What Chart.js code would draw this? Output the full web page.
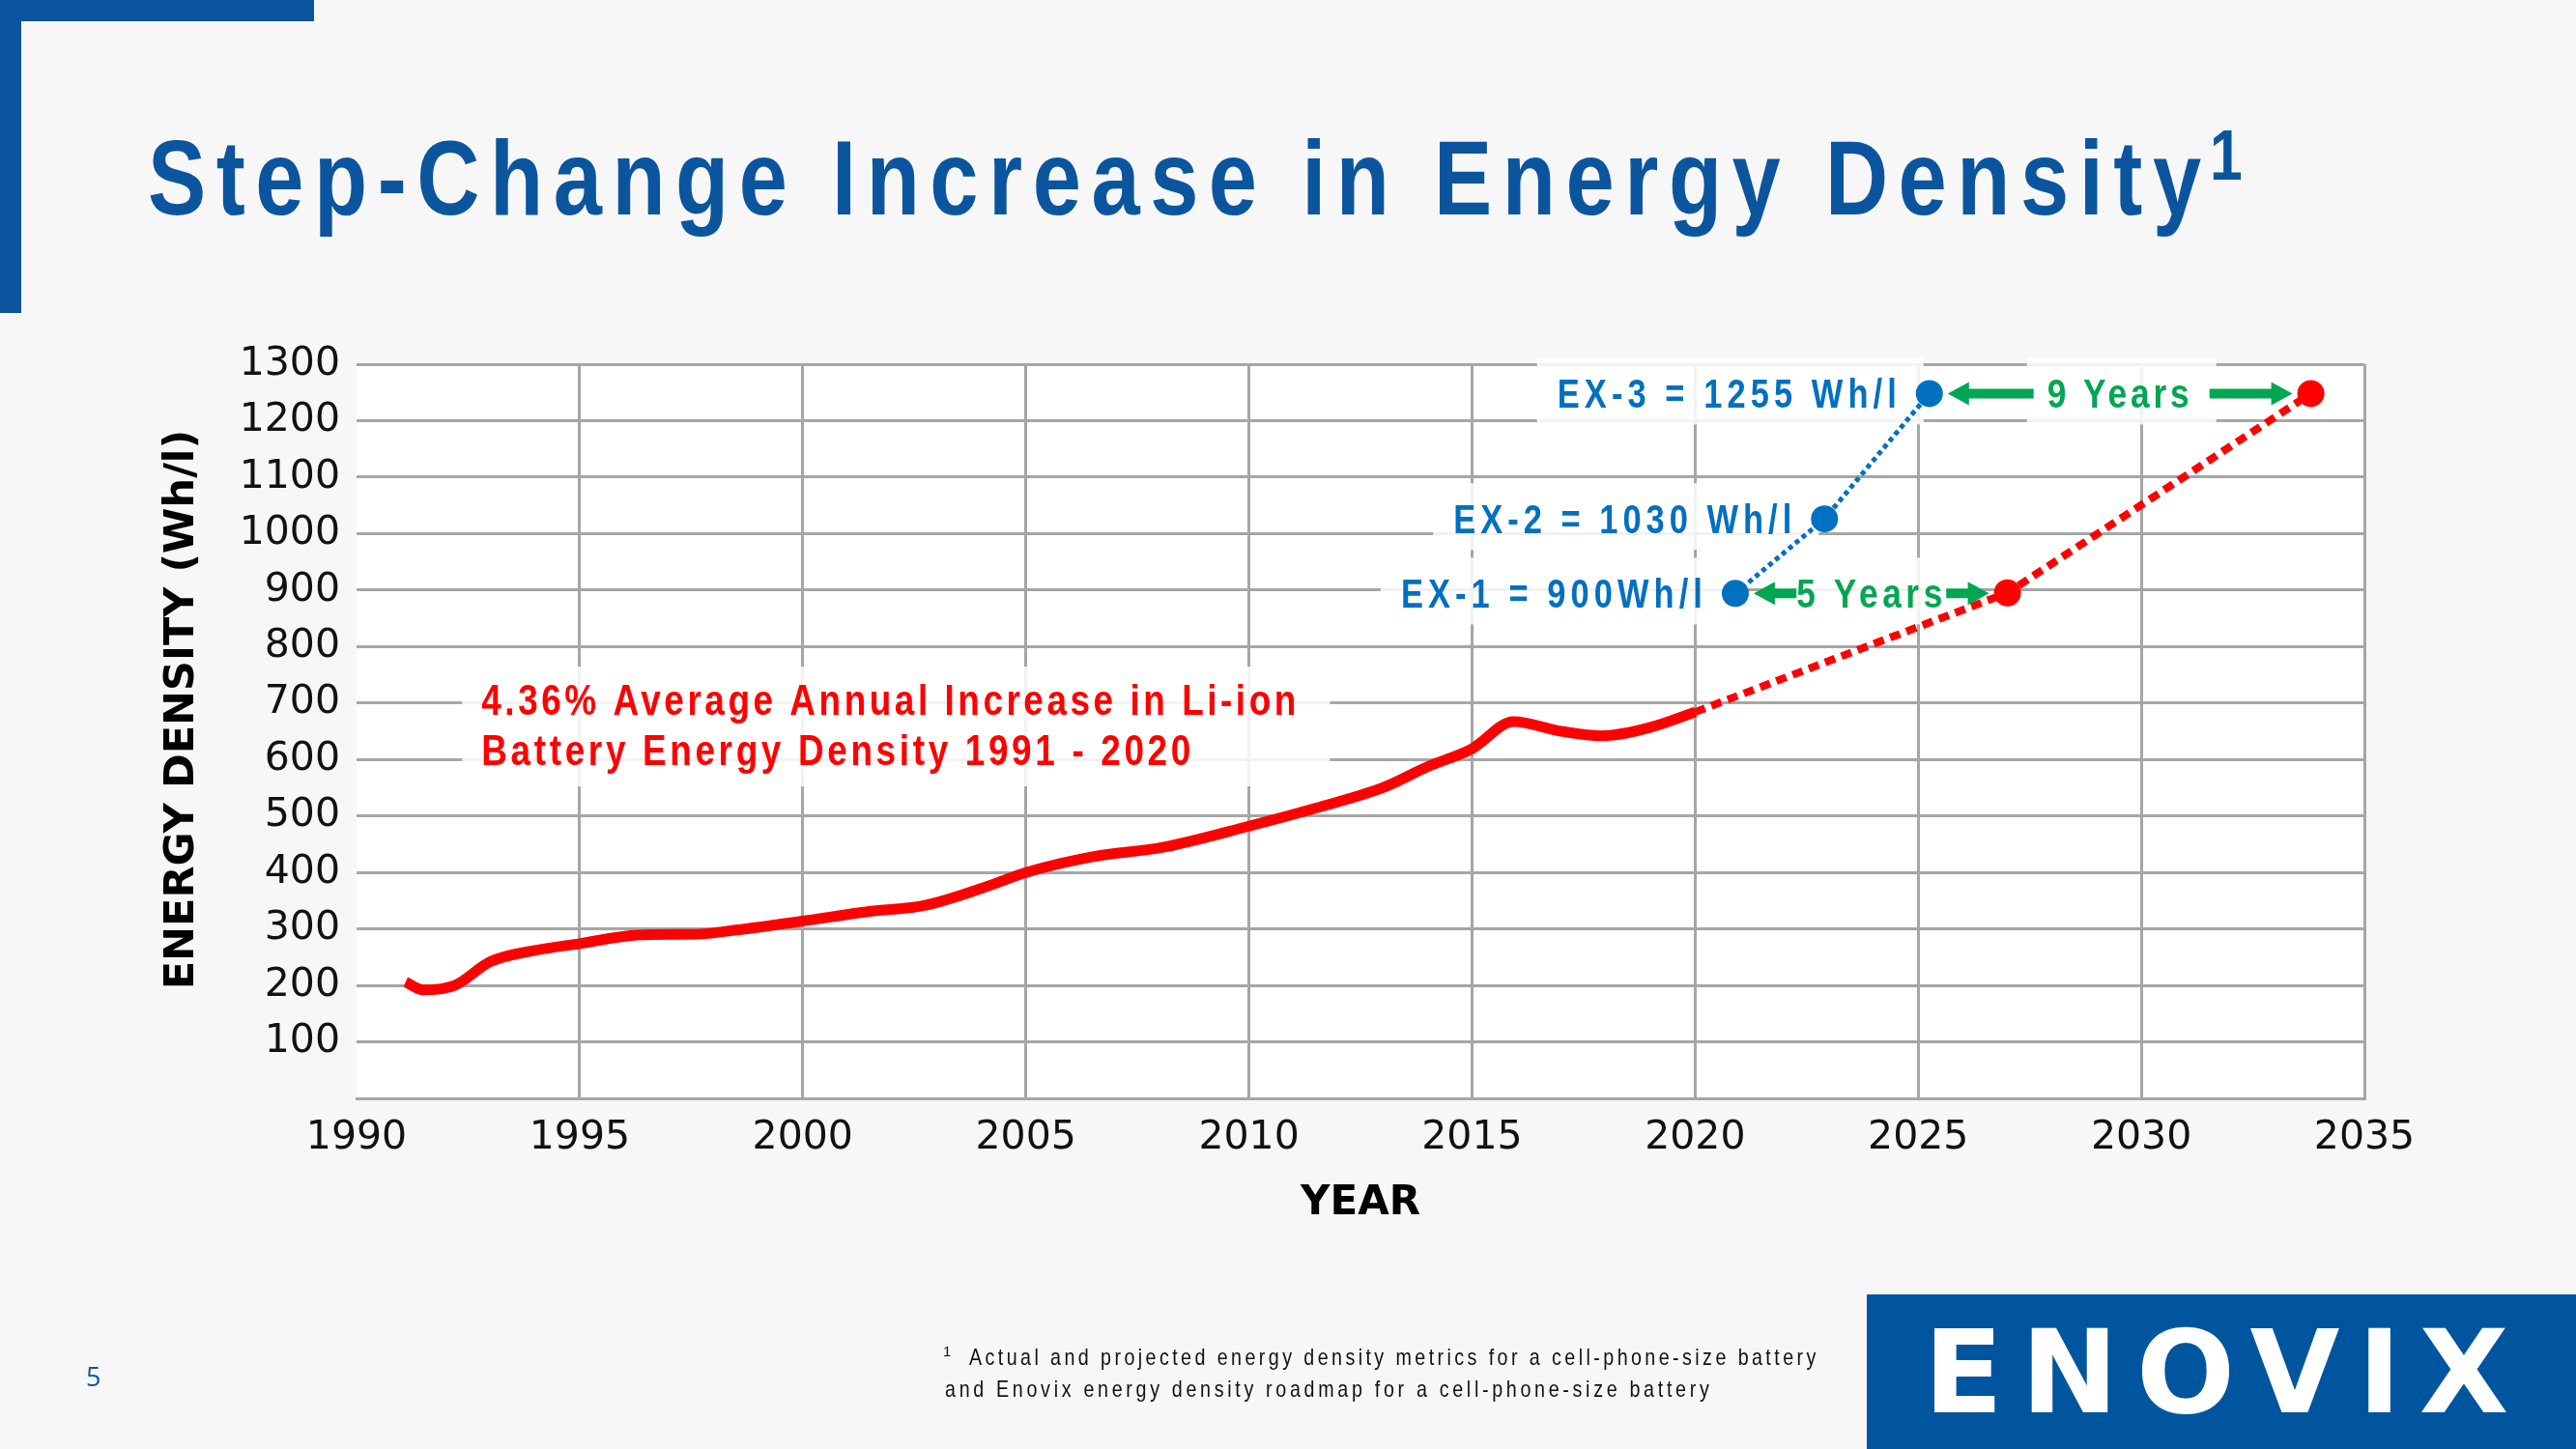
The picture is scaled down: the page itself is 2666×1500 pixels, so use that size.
<!DOCTYPE html>
<html>
<head>
<meta charset="utf-8">
<script src="https://cdn.jsdelivr.net/npm/chart.js@4.4.1/dist/chart.umd.min.js"></script>
<style>
  html, body { margin: 0; padding: 0; background: #f7f7f7; }
  #page { position: relative; width: 2666px; height: 1500px; overflow: hidden; background: #f7f7f7; }
  #chart { position: absolute; left: 0; top: 0; }
  .bar { position: absolute; background: #0b559f; }
  .narrow { display: inline-block; transform: scaleX(0.82); transform-origin: 0 50%; }
  #title { position: absolute; left: 153px; top: 129px; white-space: nowrap;
    font-family: "Liberation Sans", Arial, sans-serif;
    font-weight: bold; font-size: 110px; line-height: 110px; color: #0b559f; }
  #tsup { position: absolute; left: 2287px; top: 124px; white-space: nowrap;
    font-family: "Liberation Sans", Arial, sans-serif;
    font-weight: bold; font-size: 74px; line-height: 74px; color: #0b559f; }
  .foot { position: absolute; white-space: nowrap; color: #111;
    font-family: "Liberation Sans", Arial, sans-serif;
    font-size: 24px; line-height: 33px; }
  #fsup { position: absolute; left: 976px; top: 1391px; font-size: 15px; line-height: 15px; color: #111;
    font-family: "Liberation Sans", Arial, sans-serif; }
  #pnum { position: absolute; left: 89px; top: 1411px; font-family: "Open Sans", sans-serif;
    font-size: 27px; line-height: 27px; color: #0b559f; }
  #logo { position: absolute; left: 1932px; top: 1340px; width: 734px; height: 160px; background: #00559f; }
  #logotext { position: absolute; left: 1991px; top: 1361px; white-space: nowrap; color: #fff;
    font-family: "DejaVu Sans", sans-serif; font-weight: bold; font-size: 120px; line-height: 120px; }
</style>
</head>
<body>
<div id="page">
  <canvas id="chart" width="2666" height="1500"></canvas>
  <div class="bar" style="left:0;top:0;width:325px;height:22px;"></div>
  <div class="bar" style="left:0;top:0;width:22px;height:324px;"></div>
  <div id="title"><span id="tmain" class="narrow">Step-Change Increase in Energy Density</span></div>
  <div id="tsup"><span class="narrow">1</span></div>
  <div id="pnum">5</div>
  <div id="fsup">1</div>
  <div class="foot" style="left:1003px;top:1388px;"><span id="f1" class="narrow">Actual and projected energy density metrics for a cell-phone-size battery</span></div>
  <div class="foot" style="left:978px;top:1421px;"><span id="f2" class="narrow">and Enovix energy density roadmap for a cell-phone-size battery</span></div>
  <div id="logo"></div>
  <div id="logotext">ENOVIX</div>
</div>
<script>
// ---------------- DATA ----------------
const actualYears   = [1991.1, 1991.5, 1992.2, 1993, 1994, 1995, 1996.3, 1997.7, 1998.5, 2000, 2001.5, 2002.75, 2004.3, 2005, 2006.5, 2008.1, 2010, 2011.5, 2013, 2014, 2015, 2015.93, 2017, 2017.9, 2019, 2020];
const actualDensity = [206, 192, 200, 242, 262, 274, 289, 291, 298, 314, 331, 342, 380, 400, 428, 445, 482, 514, 550, 587, 619, 667, 650, 642, 657, 684];
const projYears     = [2020, 2027, 2033.8];
const projDensity   = [684, 895, 1248];
const enovixYears   = [2020.9, 2022.9, 2025.25];
const enovixDensity = [894, 1026, 1248];
const enovixLabels  = ['EX-1 = 900Wh/l', 'EX-2 = 1030 Wh/l', 'EX-3 = 1255 Wh/l'];
const gapLabels     = ['5 Years', '9 Years'];
const noteLines     = ['4.36% Average Annual Increase in Li-ion', 'Battery Energy Density 1991 - 2020'];
const xTickValues   = [1990, 1995, 2000, 2005, 2010, 2015, 2020, 2025, 2030, 2035];
const yTickValues   = [100, 200, 300, 400, 500, 600, 700, 800, 900, 1000, 1100, 1200, 1300];

// ---------------- STYLE ----------------
const RED = '#ff0000', BLUE = '#0070c0', GREEN = '#00a651', GRID = '#a6a6a6';
const SANS = '"Liberation Sans", Arial, sans-serif';
const SQUEEZE = 0.82;               // Arial -> Arial Narrow look
const TICKFONT = 'DejaVu Sans';
const EX_W = [312, 350, 351];      // target text widths of EX labels
const GAP_W = [151, 147];          // target widths of year labels
const NOTE_W = [843, 734];
const NOTE_ANCHOR = {x: 1992.8, y: 679};

const pts = (xs, ys) => xs.map((x, i) => ({x, y: ys[i]}));
const peak = actualDensity.indexOf(Math.max(...actualDensity));
const hasLS = 'letterSpacing' in CanvasRenderingContext2D.prototype;

function spacedText(ctx, text, left, baseline, width) {
  ctx.save();
  ctx.translate(left, baseline);
  ctx.scale(SQUEEZE, 1);
  ctx.textAlign = 'left';
  ctx.textBaseline = 'alphabetic';
  if (hasLS) ctx.letterSpacing = '0px';
  const w0 = ctx.measureText(text).width;
  const ls = (width / SQUEEZE - w0) / Math.max(text.length - 1, 1);
  if (hasLS) {
    ctx.letterSpacing = ls + 'px';
    ctx.fillText(text, 0, 0);
  } else {
    let x = 0;
    for (const ch of text) { ctx.fillText(ch, x, 0); x += ctx.measureText(ch).width + ls; }
  }
  ctx.restore();
}
function arrow(ctx, tail, head, y, color) {
  const dir = head > tail ? 1 : -1, hl = 22, hh = 12, sh = 5;
  ctx.fillStyle = color;
  ctx.beginPath();
  ctx.moveTo(tail, y - sh);
  ctx.lineTo(head - dir * hl, y - sh);
  ctx.lineTo(head - dir * hl, y - hh);
  ctx.lineTo(head, y);
  ctx.lineTo(head - dir * hl, y + hh);
  ctx.lineTo(head - dir * hl, y + sh);
  ctx.lineTo(tail, y + sh);
  ctx.closePath();
  ctx.fill();
}

function layoutNotes(chart) {
  const X = chart.scales.x, Y = chart.scales.y;
  const out = {ex: [], gaps: []};
  enovixLabels.forEach((t, i) => {
    const px = X.getPixelForValue(enovixYears[i]), cy = Y.getPixelForValue(enovixDensity[i]);
    const right = px - 34, left = right - EX_W[i];
    out.ex.push({t, left, right, cy, w: EX_W[i]});
  });
  // 5 years: EX-1 -> projected point 1 ; 9 years: EX-3 -> projected point 2
  const pairs = [[0, 1, 0, 4], [2, 2, 14, 21]];
  pairs.forEach(([ei, pi, g1, g2], k) => {
    const a = X.getPixelForValue(enovixYears[ei]), b = X.getPixelForValue(projYears[pi]);
    const cy = Y.getPixelForValue(enovixDensity[ei]);
    const cx = (a + b) / 2 - 2, w = GAP_W[k];
    out.gaps.push({t: gapLabels[k], left: cx - w / 2, right: cx + w / 2, cy, w, a, b, g1, g2});
  });
  out.note = {left: X.getPixelForValue(NOTE_ANCHOR.x), base: Y.getPixelForValue(NOTE_ANCHOR.y)};
  return out;
}

const notesPlugin = {
  id: 'notes',
  beforeDraw(chart) {
    const {ctx, chartArea: a} = chart;
    ctx.save();
    ctx.fillStyle = '#ffffff';
    ctx.fillRect(a.left, a.top, a.right - a.left, a.bottom - a.top);
    ctx.restore();
  },
  beforeDatasetsDraw(chart) {
    const ctx = chart.ctx, L = layoutNotes(chart);
    ctx.save();
    ctx.fillStyle = 'rgba(255,255,255,0.86)';
    L.ex.forEach(e => ctx.fillRect(e.left - 21, e.cy - 37, e.w + 49, 69));
    L.gaps.forEach(g => ctx.fillRect(g.left - 21, g.cy - 37, g.w + 49, 69));
    ctx.fillRect(L.note.left - 20, L.note.base - 50, NOTE_W[0] + 55, 124);
    ctx.restore();
  },
  afterDatasetsDraw(chart) {
    const ctx = chart.ctx, L = layoutNotes(chart);
    ctx.save();
    ctx.font = `bold 42px ${SANS}`;
    ctx.fillStyle = BLUE;
    L.ex.forEach(e => spacedText(ctx, e.t, e.left, e.cy + 15, e.w));
    ctx.font = `bold 43px ${SANS}`;
    L.gaps.forEach(g => {
      ctx.fillStyle = GREEN;
      spacedText(ctx, g.t, g.left, g.cy + 15, g.w);
      arrow(ctx, g.left - g.g1, g.a + 19, g.cy, GREEN);
      arrow(ctx, g.right + g.g2, g.b - 19, g.cy, GREEN);
    });
    ctx.font = `bold 45px ${SANS}`;
    ctx.fillStyle = RED;
    noteLines.forEach((t, i) => spacedText(ctx, t, L.note.left, L.note.base + i * 52, NOTE_W[i]));
    ctx.restore();
  }
};

const tickFont = {family: TICKFONT, size: 41};
new Chart(document.getElementById('chart'), {
  type: 'line',
  data: {
    datasets: [
      { data: pts(enovixYears, enovixDensity), borderColor: BLUE, borderWidth: 5, borderDash: [5, 4],
        pointRadius: 14, pointBackgroundColor: BLUE, pointBorderWidth: 0, tension: 0 },
      { data: pts(projYears, projDensity), borderColor: RED, borderWidth: 8, borderDash: [11, 7],
        pointRadius: [0, 14, 14], pointBackgroundColor: RED, pointBorderWidth: 0, tension: 0 },
      { data: pts(actualYears.slice(0, peak + 1), actualDensity.slice(0, peak + 1)), borderColor: RED,
        borderWidth: 11, pointRadius: 0, cubicInterpolationMode: 'monotone', borderJoinStyle: 'round' },
      { data: pts(actualYears.slice(peak), actualDensity.slice(peak)), borderColor: RED,
        borderWidth: 11, pointRadius: 0, cubicInterpolationMode: 'monotone', borderJoinStyle: 'round' }
    ]
  },
  options: {
    responsive: false, animation: false, devicePixelRatio: 1,
    layout: { padding: { left: 100, right: 219, top: 377, bottom: 213 } },
    plugins: { legend: { display: false }, tooltip: { enabled: false } },
    scales: {
      x: {
        type: 'linear', min: xTickValues[0], max: xTickValues[xTickValues.length - 1],
        afterBuildTicks: s => { s.ticks = xTickValues.map(v => ({value: v})); },
        ticks: { padding: 17, color: '#111', font: tickFont, maxRotation: 0, autoSkip: false, callback: v => String(v) },
        grid: { color: c => c.index === 0 ? 'rgba(0,0,0,0)' : GRID, lineWidth: 3, drawTicks: false },
        border: { display: true, color: GRID, width: 3 },
        title: { display: true, text: 'YEAR', color: '#000', font: {family: TICKFONT, size: 42, weight: 'bold'}, padding: {top: 0, bottom: 16} },
        afterFit: s => { s.height = 150; }
      },
      y: {
        type: 'linear', min: 0, max: yTickValues[yTickValues.length - 1],
        afterBuildTicks: s => { s.ticks = [0, ...yTickValues].map(v => ({value: v})); },
        ticks: { padding: 17, color: '#111', font: tickFont, autoSkip: false, callback: v => v === 0 ? '' : String(v) },
        grid: { color: GRID, lineWidth: 3, drawTicks: false },
        border: { display: false },
        title: { display: true, text: '   ENERGY DENSITY (Wh/l)', color: '#000', font: {family: TICKFONT, size: 43, weight: 'bold'}, padding: {top: 63, bottom: 0} },
        afterFit: s => { s.width = 269; }
      }
    }
  },
  plugins: [notesPlugin]
});

// fit letter-spaced, horizontally squeezed HTML texts
function fitEl(el, target) {
  el.style.letterSpacing = '0px';
  const w = el.offsetWidth;                 // untransformed width
  const n = [...el.textContent].length;
  const ls = (target / 0.82 - w) / (n - 1);
  el.style.letterSpacing = ls + 'px';
}
fitEl(document.getElementById('tmain'), 2125);
fitEl(document.getElementById('f1'), 876);
fitEl(document.getElementById('f2'), 791);
(function () {
  const el = document.getElementById('logotext');
  el.style.letterSpacing = '0px';
  const w = el.offsetWidth, n = el.textContent.length;
  el.style.letterSpacing = ((605 - w) / (n - 1)) + 'px';
})();
</script>
</body>
</html>
